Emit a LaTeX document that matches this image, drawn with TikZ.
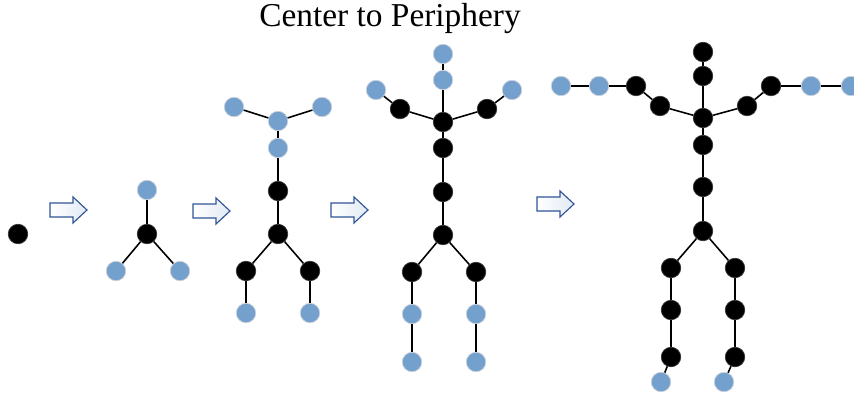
\documentclass[tikz,border=0pt]{standalone}
\usepackage{fontspec}
\setmainfont{Liberation Serif}
\definecolor{nodeblue}{RGB}{116,160,206}
\definecolor{nodeedge}{RGB}{205,210,218}
\definecolor{arrowline}{RGB}{47,85,151}
\definecolor{arrowfill}{RGB}{225,233,244}
\tikzset{
  bn/.style={circle, fill=nodeblue, draw=nodeedge, line width=0.4pt, minimum size=0.39cm, inner sep=0pt},
  kn/.style={circle, fill=black, draw=black!80, line width=0.4pt, minimum size=0.39cm, inner sep=0pt},
  link/.style={draw=black, line width=0.9pt},
  blockarr/.pic={\draw[draw=arrowline, line width=0.65pt, left color=white, right color=arrowfill]
     (0,-7) -- (23,-7) -- (23,-13) -- (37,0) -- (23,13) -- (23,7) -- (0,7) -- cycle;}
}
\begin{document}
\begin{tikzpicture}[x=0.02cm, y=-0.02cm]
\useasboundingbox (0,0) rectangle (854,395);
\clip (0,0) rectangle (854,395);
\node[font=\fontsize{19}{22}\selectfont] (title) at (390,19) {Center to Periphery};
% arrows
\pic at (50,210) {blockarr};
\pic at (193,211) {blockarr};
\pic at (331,210) {blockarr};
\pic at (537,204) {blockarr};
% stage 1
\node[kn] (s1c) at (18,234) {};
% stage 2
\node[kn] (s2c) at (147,234) {};
\node[bn] (s2t) at (147,190) {};
\node[bn] (s2l) at (116,271) {};
\node[bn] (s2r) at (180,271) {};
\draw[link] (s2c) -- (s2t) (s2c) -- (s2l) (s2c) -- (s2r);
% stage 3
\node[bn] (s3c) at (278,121) {};
\node[bn] (s3tl) at (234,107) {};
\node[bn] (s3tr) at (322,107) {};
\node[bn] (s3b1) at (278,148) {};
\node[kn] (s3k1) at (278,191) {};
\node[kn] (s3k2) at (278,234) {};
\node[kn] (s3l1) at (246,271) {};
\node[kn] (s3r1) at (310,271) {};
\node[bn] (s3l2) at (246,313) {};
\node[bn] (s3r2) at (310,313) {};
\draw[link] (s3c) -- (s3tl) (s3c) -- (s3tr) (s3c) -- (s3b1) -- (s3k1) -- (s3k2)
  (s3k2) -- (s3l1) -- (s3l2) (s3k2) -- (s3r1) -- (s3r2);
% stage 4
\node[bn] (s4t2) at (443,54) {};
\node[bn] (s4t1) at (443,80) {};
\node[kn] (s4c) at (443,122) {};
\node[kn] (s4lk) at (400,109) {};
\node[bn] (s4lb) at (376,90) {};
\node[kn] (s4rk) at (487,109) {};
\node[bn] (s4rb) at (512,90) {};
\node[kn] (s4s1) at (443,148) {};
\node[kn] (s4s2) at (443,192) {};
\node[kn] (s4s3) at (443,235) {};
\node[kn] (s4l1) at (412,272) {};
\node[bn] (s4l2) at (412,314) {};
\node[bn] (s4l3) at (412,362) {};
\node[kn] (s4r1) at (476,272) {};
\node[bn] (s4r2) at (476,314) {};
\node[bn] (s4r3) at (476,362) {};
\draw[link] (s4t2) -- (s4t1) -- (s4c) (s4c) -- (s4lk) -- (s4lb) (s4c) -- (s4rk) -- (s4rb)
  (s4c) -- (s4s1) -- (s4s2) -- (s4s3)
  (s4s3) -- (s4l1) -- (s4l2) -- (s4l3) (s4s3) -- (s4r1) -- (s4r2) -- (s4r3);
% stage 5
\node[kn] (s5t2) at (703,52) {};
\node[kn] (s5t1) at (703,76) {};
\node[kn] (s5c) at (703,118) {};
\node[kn] (s5l1) at (660,106) {};
\node[kn] (s5l2) at (636,86) {};
\node[bn] (s5l3) at (599,86) {};
\node[bn] (s5l4) at (561,86) {};
\node[kn] (s5r1) at (747,106) {};
\node[kn] (s5r2) at (771,86) {};
\node[bn] (s5r3) at (811,86) {};
\node[bn] (s5r4) at (851,86) {};
\node[kn] (s5s1) at (703,145) {};
\node[kn] (s5s2) at (703,187) {};
\node[kn] (s5s3) at (703,231) {};
\node[kn] (s5a1) at (671,268) {};
\node[kn] (s5a2) at (671,310) {};
\node[kn] (s5a3) at (671,357) {};
\node[bn] (s5a4) at (661,382) {};
\node[kn] (s5b1) at (735,268) {};
\node[kn] (s5b2) at (735,310) {};
\node[kn] (s5b3) at (735,357) {};
\node[bn] (s5b4) at (724,382) {};
\draw[link] (s5t2) -- (s5t1) -- (s5c)
  (s5c) -- (s5l1) -- (s5l2) -- (s5l3) -- (s5l4)
  (s5c) -- (s5r1) -- (s5r2) -- (s5r3) -- (s5r4)
  (s5c) -- (s5s1) -- (s5s2) -- (s5s3)
  (s5s3) -- (s5a1) -- (s5a2) -- (s5a3) -- (s5a4)
  (s5s3) -- (s5b1) -- (s5b2) -- (s5b3) -- (s5b4);
\end{tikzpicture}
\end{document}
